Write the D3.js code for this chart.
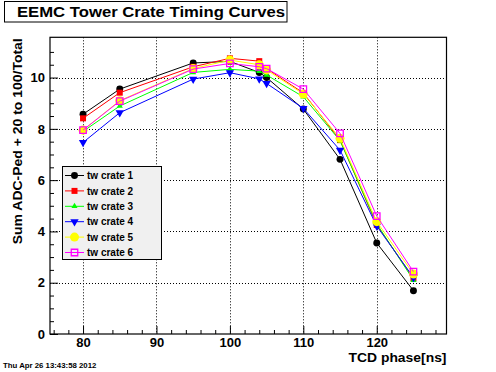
<!DOCTYPE html>
<html><head><meta charset="utf-8">
<script src="https://cdn.jsdelivr.net/npm/d3@7"></script>
<style>body{margin:0;background:#fff}svg{display:block}text{font-family:"Liberation Sans",Arial,sans-serif;font-weight:bold}</style>
</head><body>
<script>
const phases = [80, 85, 95, 100, 104, 105, 110, 115, 120, 125];
const crate1 = [8.57, 9.55, 10.57, 10.63, 10.2, 10.0, 8.77, 6.81, 3.55, 1.69];
const crate2 = [8.41, 9.41, 10.42, 10.75, 10.64, 10.35, 9.4, 7.56, 4.25, 2.17];
const crate3 = [7.9, 8.89, 10.2, 10.32, 10.25, 10.1, 9.25, 7.54, 4.3, 2.1];
const crate4 = [7.47, 8.63, 9.94, 10.19, 9.95, 9.77, 8.8, 7.17, 4.21, 2.2];
const crate5 = [7.95, 9.1, 10.35, 10.68, 10.5, 10.3, 9.36, 7.63, 4.38, 2.34];
const crate6 = [7.95, 9.08, 10.33, 10.55, 10.42, 10.35, 9.55, 7.82, 4.6, 2.43];
const seriesNames = ["tw crate 1","tw crate 2","tw crate 3","tw crate 4","tw crate 5","tw crate 6"];
const xTicks = [80, 90, 100, 110, 120];
const yTicks = [0, 2, 4, 6, 8, 10];
const titleText = "EEMC Tower Crate Timing Curves";
const xTitle = "TCD phase[ns]";
const yTitle = "Sum ADC-Ped + 20 to 100/Total";
const dateText = "Thu Apr 26 13:43:58 2012";

const W = 496, H = 372;
const L = 50, R = 446.5, T = 37.3, B = 334;
const svg = d3.select("body").append("svg").attr("width", W).attr("height", H);
svg.append("rect").attr("width", W).attr("height", H).attr("fill", "#fff");

const x = d3.scaleLinear().domain([75.5, 129.5]).range([L, R]);
const y = d3.scaleLinear().domain([0, 11.57]).range([B, T]);

// grid
const grid = svg.append("g").attr("stroke", "#000").attr("stroke-width", 1).attr("stroke-dasharray", "1,2");
xTicks.forEach(v => grid.append("line").attr("x1", Math.round(x(v))+0.5).attr("x2", Math.round(x(v))+0.5).attr("y1", T).attr("y2", B));
yTicks.filter(v => v > 0).forEach(v => grid.append("line").attr("y1", Math.round(y(v))+0.5).attr("y2", Math.round(y(v))+0.5).attr("x1", L).attr("x2", R));

// axes with inward ticks
const xMinor = d3.range(76, 130, 2).filter(v => !xTicks.includes(v));
const yMinor = d3.range(0.5, 11.5, 0.5).filter(v => !yTicks.includes(v));
const xAx = svg.append("g").attr("transform", `translate(0,${B})`)
  .call(d3.axisBottom(x).tickValues(xTicks).tickSize(-8).tickPadding(12).tickFormat(d3.format("d")));
svg.append("g").attr("transform", `translate(0,${B})`)
  .call(d3.axisBottom(x).tickValues(xMinor).tickSize(-4).tickFormat(""));
const yAx = svg.append("g").attr("transform", `translate(${L},0)`)
  .call(d3.axisLeft(y).tickValues(yTicks).tickSize(-8).tickPadding(6).tickFormat(d3.format("d")));
svg.append("g").attr("transform", `translate(${L},0)`)
  .call(d3.axisLeft(y).tickValues(yMinor).tickSize(-4).tickFormat(""));
svg.selectAll(".domain").remove();
svg.selectAll(".tick line").attr("stroke", "#000");
xAx.selectAll("text").attr("font-size", 13).attr("fill", "#000").attr("dy", 0).attr("y", 12.5);
yAx.selectAll("text").attr("font-size", 13).attr("fill", "#000").attr("x", -5);

// frame
svg.append("rect").attr("x", L).attr("y", T).attr("width", R - L).attr("height", B - T)
  .attr("fill", "none").attr("stroke", "#000").attr("stroke-width", 1.2);

const colors = ["#000000", "#ff0000", "#00ff00", "#0000ff", "#ffff00", "#ff00ff"];
const all = [crate1, crate2, crate3, crate4, crate5, crate6];
const symDefs = [
  {type: d3.symbolCircle, size: 38, rot: 0, fill: true},
  {type: d3.symbolSquare, size: 36, rot: 0, fill: true},
  {type: d3.symbolTriangle, size: 16, rot: 0, fill: true},
  {type: d3.symbolTriangle, size: 30, rot: 180, fill: true},
  {type: d3.symbolCircle, size: 64, rot: 0, fill: true},
  {type: d3.symbolSquare, size: 42, rot: 0, fill: false}
];
const line = d3.line().x(d => x(d[0])).y(d => y(d[1]));
function drawMarker(g, i, cx, cy) {
  const s = symDefs[i];
  g.append("path").attr("d", d3.symbol().type(s.type).size(s.size)())
    .attr("transform", `translate(${cx},${cy}) rotate(${s.rot})`)
    .attr("fill", s.fill ? colors[i] : "none")
    .attr("stroke", s.fill ? "none" : colors[i]).attr("stroke-width", 1.3);
}
all.forEach((vals, i) => {
  const pts = phases.map((p, k) => [p, vals[k]]);
  const g = svg.append("g");
  g.append("path").attr("d", line(pts)).attr("fill", "none").attr("stroke", colors[i]).attr("stroke-width", 1);
  pts.forEach(p => drawMarker(g, i, x(p[0]), y(p[1])));
});

// legend
const lg = svg.append("g");
lg.append("rect").attr("x", 62.5).attr("y", 166.5).attr("width", 99).attr("height", 93)
  .attr("fill", "#f0f0f0").attr("stroke", "#000").attr("stroke-width", 1);
seriesNames.forEach((n, i) => {
  const cy = 175.5 + i * 15.4;
  lg.append("line").attr("x1", 65).attr("x2", 84).attr("y1", cy).attr("y2", cy).attr("stroke", colors[i]).attr("stroke-width", 1);
  drawMarker(lg, i, 74.5, cy);
  lg.append("text").attr("x", 87).attr("y", cy + 3.6).attr("font-size", 10).attr("fill", "#000").text(n);
});

// title box
svg.append("rect").attr("x", 4.5).attr("y", 1.5).attr("width", 282.5).attr("height", 20.5)
  .attr("fill", "#fff").attr("stroke", "#000").attr("stroke-width", 1);
svg.append("text").attr("x", 17).attr("y", 16.5).attr("font-size", 14.5).attr("fill", "#000")
  .attr("textLength", 268).attr("lengthAdjust", "spacingAndGlyphs").text(titleText);

// axis titles
svg.append("text").attr("x", R).attr("y", 362).attr("text-anchor", "end").attr("font-size", 13.5).attr("fill", "#000")
  .attr("textLength", 98).attr("lengthAdjust", "spacingAndGlyphs").text(xTitle);
svg.append("text").attr("transform", `translate(21.5,${T + 1}) rotate(-90)`).attr("text-anchor", "end")
  .attr("font-size", 13.5).attr("fill", "#000")
  .attr("textLength", 206).attr("lengthAdjust", "spacingAndGlyphs").text(yTitle);
svg.append("text").attr("x", 3).attr("y", 367.5).attr("font-size", 7.8).attr("fill", "#000").text(dateText);
</script>
</body></html>
